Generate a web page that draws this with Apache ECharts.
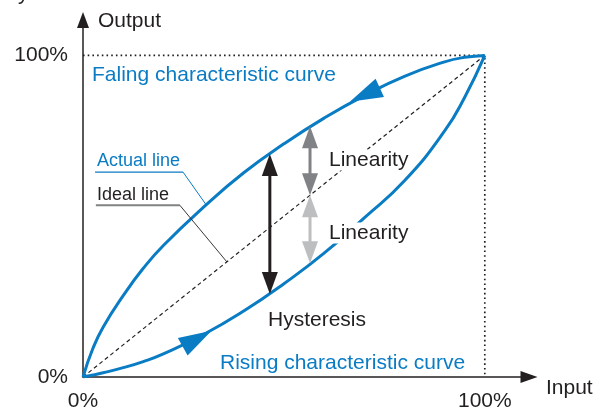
<!DOCTYPE html>
<html><head><meta charset="utf-8">
<script src="https://cdn.jsdelivr.net/npm/echarts@6/dist/echarts.min.js"></script>
<style>html,body{margin:0;padding:0;background:#fff}#c{width:605px;height:412px}</style>
</head><body><div id="c"></div>
<script>
// ---- data (percent of full scale) ----
const inputPct     = [0, 2.5, 5, 10, 15, 20, 30, 40, 50, 60, 70, 80, 90, 95, 100];
const fallingCurve = [0, 9, 15.5, 25.3, 33.8, 40.9, 52.8, 63.5, 72.5, 80.5, 87.5, 93.5, 98, 99.4, 100];
const risingCurve  = [0, 0.6, 1.3, 2.9, 4.8, 7.2, 13.2, 20.5, 29, 38.5, 49.5, 61, 76.5, 87, 100];
const idealLine    = [[0, 0], [100, 100]];
const fullScaleBox = [[0, 100], [100, 100], [100, 0]];
const axisTickValues = [0, 100];
// double arrows: [input, fromOutput, toOutput]
const hysteresisArrow     = [46.5, 25.8, 69.3];
const linearityUpperArrow = [56.5, 56.5, 78.0];
const linearityLowerArrow = [56.5, 56.5, 35.4];
// direction heads: [tipIn, tipOut, tailIn, tailOut]
const fallingHead = [66.4, 85.6, 74.4, 90.2];
const risingHead  = [32.0, 14.4, 25.1, 9.6];
// leader lines for the legend-like labels
const actualLeader = [[3.0, 63.7], [24.9, 63.7], [30.5, 53.8]];
const idealLeader  = [[3.2, 53.4], [24.1, 53.4], [35.8, 35.8]];

const DARK = '#231f20', BLUE = '#0a7cc4', GREY = '#808285', LGREY = '#bcbec0';
const FONT = '"Liberation Sans", Arial, sans-serif';

const chart = echarts.init(document.getElementById('c'), null, {renderer: 'canvas'});

function zip(xs, ys) { return xs.map((x, i) => [x, ys[i]]); }

function headPoly(tip, from, w, l) {
  const dx = tip[0] - from[0], dy = tip[1] - from[1];
  const len = Math.hypot(dx, dy) || 1;
  const ux = dx / len, uy = dy / len, px = -uy, py = ux;
  const bx = tip[0] - ux * l, by = tip[1] - uy * l;
  return [[tip[0], tip[1]], [bx + px * w / 2, by + py * w / 2], [bx - px * w / 2, by - py * w / 2]];
}

function doubleArrowSeries(arr, color) {
  return {
    type: 'custom', coordinateSystem: 'cartesian2d', silent: true, z: 5,
    data: [arr],
    renderItem: function (params, api) {
      const p1 = api.coord([api.value(0), api.value(1)]);
      const p2 = api.coord([api.value(0), api.value(2)]);
      const W = 16, L = 22;
      const dx = p2[0] - p1[0], dy = p2[1] - p1[1];
      const len = Math.hypot(dx, dy), ux = dx / len, uy = dy / len;
      return {
        type: 'group',
        children: [
          {type: 'line', shape: {x1: p1[0] + ux * L * 0.8, y1: p1[1] + uy * L * 0.8, x2: p2[0] - ux * L * 0.8, y2: p2[1] - uy * L * 0.8},
           style: {stroke: color, lineWidth: 3}},
          {type: 'polygon', shape: {points: headPoly(p2, p1, W, L)}, style: {fill: color}},
          {type: 'polygon', shape: {points: headPoly(p1, p2, W, L)}, style: {fill: color}}
        ]
      };
    }
  };
}

function headSeries(arr) {
  return {
    type: 'custom', coordinateSystem: 'cartesian2d', silent: true, z: 5,
    data: [arr],
    renderItem: function (params, api) {
      const tip = api.coord([api.value(0), api.value(1)]);
      const tail = api.coord([api.value(2), api.value(3)]);
      return {type: 'polygon', shape: {points: headPoly(tip, tail, 20, 33)}, style: {fill: BLUE}};
    }
  };
}

function lineSeries(data, color, width, type, z) {
  return {
    type: 'line', data: data, showSymbol: false, symbol: 'none', silent: true, z: z || 2,
    lineStyle: {color: color, width: width, type: type || 'solid'}
  };
}

function curveSeries(values) {
  return {
    type: 'line', data: zip(inputPct, values), smooth: 0.5,
    showSymbol: false, symbol: 'none', silent: true, z: 3,
    lineStyle: {color: BLUE, width: 3}
  };
}

const texts = [
  {t: 'Output', x: 98, y: 22, s: 21, c: DARK},
  {t: 'Input', x: 546, y: 389, s: 21, c: DARK},
  {t: 'Faling characteristic curve', x: 92, y: 76, s: 21, c: BLUE},
  {t: 'Rising characteristic curve', x: 220, y: 364, s: 21, c: BLUE},
  {t: 'Hysteresis', x: 268, y: 321, s: 21, c: DARK},
  {t: 'Linearity', x: 327, y: 161, s: 21, c: DARK, bg: true},
  {t: 'Linearity', x: 327, y: 234, s: 21, c: DARK, bg: true},
  {t: 'Actual line', x: 97, y: 162, s: 18, c: BLUE},
  {t: 'Ideal line', x: 97, y: 196, s: 18, c: DARK},
  {t: 'y', x: 18, y: -5, s: 21, c: DARK}
];

const option = {
  animation: false,
  backgroundColor: '#fff',
  grid: {left: 83, right: 76, top: 20, bottom: 28},
  xAxis: {
    type: 'value', min: 0, max: 111, interval: 100,
    axisLine: {show: true, lineStyle: {color: DARK, width: 1.5}, symbol: ['none', 'triangle'], symbolSize: [12, 17]},
    axisTick: {show: false}, splitLine: {show: false},
    axisLabel: {color: DARK, fontSize: 21, fontFamily: FONT, margin: 14, verticalAlign: 'top',
      hideOverlap: false,
      formatter: v => axisTickValues.indexOf(v) >= 0 ? v + '%' : ''}
  },
  yAxis: {
    type: 'value', min: 0, max: 111, interval: 100,
    axisLine: {show: true, lineStyle: {color: DARK, width: 1.5}, symbol: ['none', 'triangle'], symbolSize: [12, 16]},
    axisTick: {show: false}, splitLine: {show: false},
    axisLabel: {color: DARK, fontSize: 21, fontFamily: FONT, margin: 15, verticalAlign: 'middle',
      hideOverlap: false,
      formatter: v => axisTickValues.indexOf(v) >= 0 ? v + '%' : ''}
  },
  graphic: texts.map(o => ({
    type: 'text', left: o.x, top: o.y - o.s / 2 - 1, z: 100, silent: true,
    style: {text: o.t, fill: o.c, font: o.s + 'px ' + FONT,
      backgroundColor: o.bg ? '#fff' : null, padding: o.bg ? [0, 2, 0, 2] : 0}
  })),
  series: [
    lineSeries(fullScaleBox, DARK, 1.7, [1.6, 3.1], 1),
    lineSeries(idealLine, DARK, 1.2, [4, 3], 1),
    curveSeries(fallingCurve),
    curveSeries(risingCurve),
    lineSeries(actualLeader.slice(0, 2), BLUE, 1.3, 'solid', 4),
    lineSeries(actualLeader.slice(1), BLUE, 1, 'solid', 4),
    lineSeries(idealLeader.slice(0, 2), GREY, 1.8, 'solid', 4),
    lineSeries(idealLeader.slice(1), DARK, 0.9, 'solid', 4),
    doubleArrowSeries(hysteresisArrow, DARK),
    doubleArrowSeries(linearityUpperArrow, GREY),
    doubleArrowSeries(linearityLowerArrow, LGREY),
    headSeries(fallingHead),
    headSeries(risingHead)
  ]
};
chart.setOption(option);
</script>
</body></html>
